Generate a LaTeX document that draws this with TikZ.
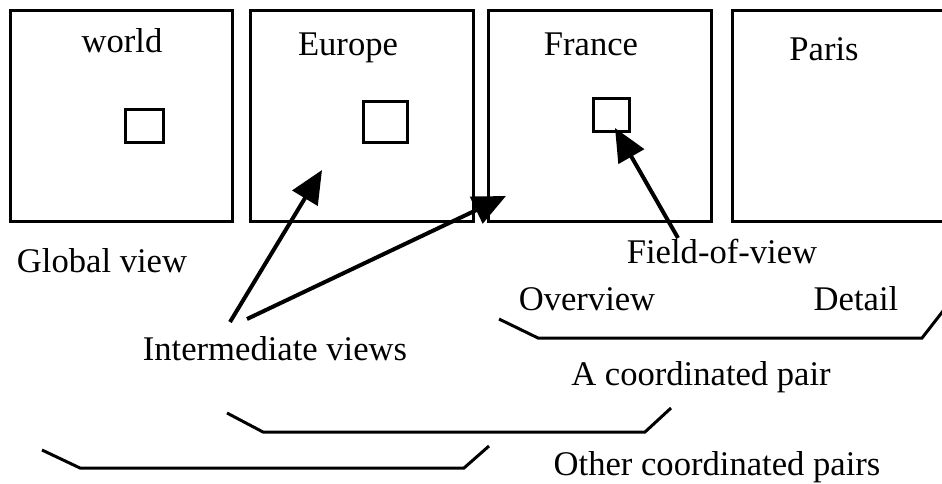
\documentclass[tikz,border=0pt]{standalone}
\usepackage{fontspec}
\setmainfont{Liberation Serif}
\usetikzlibrary{arrows.meta}
\begin{document}
\begin{tikzpicture}[x=1pt,y=-1pt,
  viewbox/.style={draw,line width=3pt,inner sep=0pt,minimum width=#1},
  fovbox/.style={draw,line width=3pt,inner sep=0pt},
  lbl/.style={anchor=base,inner sep=0pt,font=\fontsize{34.6}{40}\selectfont},
  pointer/.style={line width=4pt,-{Triangle[length=33pt,width=29pt]}},
  brace/.style={line width=3pt}]
\useasboundingbox (0,0) rectangle (942,483);

% the four views
\node[viewbox=222pt,minimum height=211pt] (world)  at (121,115.5) {};
\node[viewbox=223pt,minimum height=211pt] (europe) at (361.5,115.5) {};
\node[viewbox=223pt,minimum height=211pt] (france) at (599.5,115.5) {};
\node[viewbox=228pt,minimum height=211pt] (paris)  at (846,115.5) {};

% field-of-view rectangles
\node[fovbox,minimum width=38pt,minimum height=33pt] (fw) at (144,125.5) {};
\node[fovbox,minimum width=44pt,minimum height=41pt] (fe) at (385,121.5) {};
\node[fovbox,minimum width=36pt,minimum height=33pt] (ff) at (611,114.5) {};

% view titles
\node[lbl] (tworld)  at (122,52) {world};
\node[lbl] (teurope) at (348,55) {Europe};
\node[lbl] (tfrance) at (591,55) {France};
\node[lbl] (tparis)  at (824,60) {Paris};

% captions
\node[lbl] (global) at (102,272) {Global view};
\node[lbl] (inter)  at (275,360) {Intermediate views};
\node[lbl] (fov)    at (722,263) {Field-of-view};
\node[lbl] (over)   at (587,310) {Overview};
\node[lbl] (detail) at (856,310) {Detail};
\node[lbl] (pair)   at (701,385) {A coordinated pair};
\node[lbl] (others) at (717,475) {Other coordinated pairs};

% pointers
\coordinate (iva) at (230,322);
\coordinate (ivb) at (247,319);
\coordinate (fovt) at (678,238);
\coordinate (tipa) at (322,170);
\coordinate (tipb) at (506,196);
\coordinate (tipc) at (615,128);
\draw[pointer] (iva) -- (tipa);
\draw[pointer] (ivb) -- (tipb);
\draw[pointer] (fovt) -- (tipc);

% grouping brackets
\draw[brace] (499,319) -- (538,338) -- (922,338) -- (950,302);
\draw[brace] (227,413) -- (263,432) -- (645,432) -- (671,408);
\draw[brace] (42,450) -- (80,468) -- (464,468) -- (489,446);
\end{tikzpicture}
\end{document}
